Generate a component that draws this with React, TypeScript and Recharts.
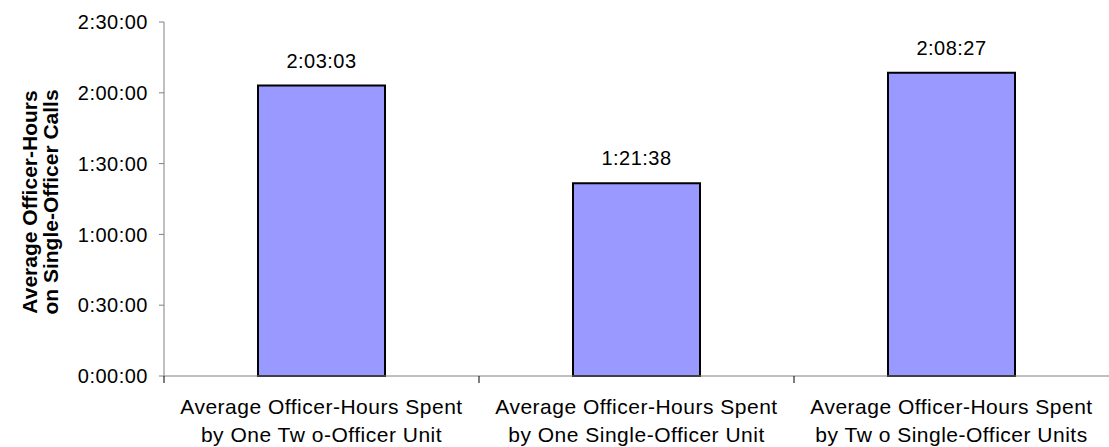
import React from 'react';
import { BarChart, Bar, XAxis, YAxis, LabelList } from 'recharts';

const categories = [
  ['Average Officer-Hours Spent', 'by One Tw o-Officer Unit'],
  ['Average Officer-Hours Spent', 'by One Single-Officer Unit'],
  ['Average Officer-Hours Spent', 'by Tw o Single-Officer Units'],
];
// seconds
const avgSeconds = [7383, 4898, 7707];
const yTicks = [0, 1800, 3600, 5400, 7200, 9000];
const yTitle = ['Average Officer-Hours', 'on Single-Officer Calls'];

const data = categories.map((c, i) => ({ name: String(i), value: avgSeconds[i] }));

const fmt = (s: number) => {
  const h = Math.floor(s / 3600);
  const m = Math.floor((s % 3600) / 60);
  const sec = Math.round(s % 60);
  return `${h}:${String(m).padStart(2, '0')}:${String(sec).padStart(2, '0')}`;
};

const font = '"Liberation Sans", Arial, sans-serif';

const CatTick = (props: any) => {
  const { x, y, payload } = props;
  const lines = categories[Number(payload.value)];
  const left = x - (payload.offset || 0);
  return (
    <g>
      <line x1={left} y1={376} x2={left} y2={383} stroke="#000" />
      <text x={x} y={y} textAnchor="middle" fontFamily={font} fontSize={21} fill="#000" letterSpacing={0.5}>
        <tspan x={x} dy={32}>{lines[0]}</tspan>
        <tspan x={x} dy={28}>{lines[1]}</tspan>
      </text>
    </g>
  );
};

const YTitle = (props: any) => {
  const { viewBox } = props;
  const cy = viewBox.y + viewBox.height / 2 + 3;
  return (
    <g>
      {yTitle.map((t, i) => (
        <text
          key={i}
          x={0}
          y={0}
          transform={`translate(${37 + i * 21}, ${cy}) rotate(-90)`}
          textAnchor="middle"
          fontFamily={font}
          fontSize={21}
          fontWeight="bold"
          fill="#000"
        >
          {t}
        </text>
      ))}
    </g>
  );
};

export default function App() {
  return (
    <div style={{ position: 'absolute', left: 0, top: 0, background: '#fff' }}>
      <BarChart width={1109} height={447} data={data} margin={{ top: 22, right: 0, bottom: 0, left: 0 }}>
        <XAxis
          dataKey="name"
          axisLine={{ stroke: '#808080' }}
          tickLine={false}
          tick={<CatTick />}
          tickMargin={0}
          interval={0}
          height={71}
        />
        <YAxis
          width={164}
          domain={[0, 9000]}
          ticks={yTicks}
          tickFormatter={fmt}
          axisLine={{ stroke: '#808080' }}
          tickLine={{ stroke: '#808080' }}
          tickSize={5}
          tickMargin={11}
          tick={{ fill: '#000', fontSize: 20, fontFamily: font, letterSpacing: 0.5 }}
          label={<YTitle />}
        />
        <Bar
          dataKey="value"
          fill="#9999FF"
          stroke="#000"
          strokeWidth={2}
          barSize={127}
          isAnimationActive={false}
        >
          <LabelList
            dataKey="value"
            position="top"
            offset={18}
            formatter={(v: any) => fmt(Number(v))}
            style={{ fill: '#000', fontSize: 20, fontFamily: font, letterSpacing: 0.5 }}
          />
        </Bar>
      </BarChart>
    </div>
  );
}
